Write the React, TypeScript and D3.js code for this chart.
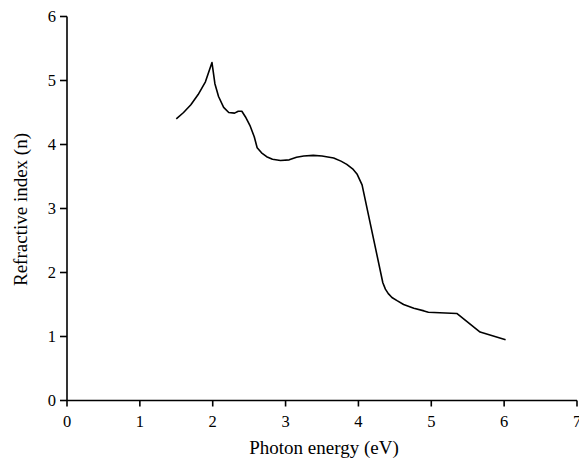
import React from "react";
import * as d3 from "d3";

const energy = [1.5, 1.6, 1.7, 1.8, 1.9, 1.99, 2.03, 2.08, 2.15, 2.22, 2.3, 2.35, 2.4, 2.45, 2.51, 2.57, 2.61, 2.67, 2.74, 2.82, 2.93, 3.05, 3.15, 3.25, 3.38, 3.5, 3.66, 3.76, 3.84, 3.92, 3.98, 4.05, 4.335, 4.37, 4.41, 4.46, 4.53, 4.62, 4.76, 4.9, 4.96, 5.35, 5.67, 6.02];
const refractive = [4.4, 4.5, 4.62, 4.78, 4.98, 5.28, 4.95, 4.75, 4.58, 4.5, 4.49, 4.52, 4.52, 4.43, 4.3, 4.12, 3.95, 3.87, 3.81, 3.77, 3.75, 3.76, 3.8, 3.82, 3.83, 3.82, 3.79, 3.74, 3.69, 3.62, 3.54, 3.37, 1.84, 1.74, 1.67, 1.61, 1.56, 1.5, 1.44, 1.4, 1.38, 1.36, 1.07, 0.95];
const xTicks = [0, 1, 2, 3, 4, 5, 6, 7];
const yTicks = [0, 1, 2, 3, 4, 5, 6];
const xLabel = "Photon energy (eV)";
const yLabel = "Refractive index (n)";

export default function App() {
  const W = 579, H = 459;
  const x = d3.scaleLinear().domain([0, 7]).range([67, 577]);
  const y = d3.scaleLinear().domain([0, 6]).range([400.5, 16.5]);
  const pts: [number, number][] = energy.map((e, i) => [e, refractive[i]]);
  const line = d3.line<[number, number]>().x(d => x(d[0])).y(d => y(d[1])).curve(d3.curveLinear);
  const font = "'Liberation Serif', 'Times New Roman', serif";
  return (
    <svg width={W} height={H} style={{ position: "absolute", left: 0, top: 0, background: "#fff" }} fontFamily={font}>
      <line x1={x(0)} x2={x(7)} y1={y(0)} y2={y(0)} stroke="#000" strokeWidth={1.6} />
      <line x1={x(0)} x2={x(0)} y1={y(0)} y2={y(6)} stroke="#000" strokeWidth={1.6} />
      {yTicks.map(t => (
        <g key={"y" + t}>
          <line x1={x(0) - 7} x2={x(0)} y1={y(t)} y2={y(t)} stroke="#000" strokeWidth={1.6} />
          <text x={x(0) - 11} y={y(t)} dy="0.35em" textAnchor="end" fontSize={16.5}>{t}</text>
        </g>
      ))}
      {xTicks.map(t => (
        <g key={"x" + t}>
          <line x1={x(t)} x2={x(t)} y1={y(0)} y2={y(0) + 6} stroke="#000" strokeWidth={1.6} />
          <text x={x(t)} y={426.5} textAnchor="middle" fontSize={16.5}>{t}</text>
        </g>
      ))}
      <path d={line(pts) || ""} fill="none" stroke="#000" strokeWidth={1.6} strokeLinejoin="round" />
      <text x={324} y={454} textAnchor="middle" fontSize={19}>{xLabel}</text>
      <text transform={`translate(27,209.5) rotate(-90)`} textAnchor="middle" fontSize={19}>{yLabel}</text>
    </svg>
  );
}
